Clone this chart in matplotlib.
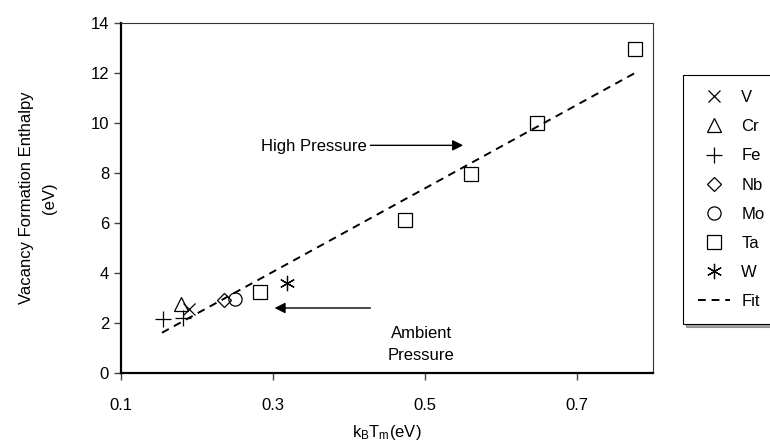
import matplotlib
matplotlib.use("Agg")
import matplotlib.pyplot as plt

plt.rcParams['font.family'] = ['Liberation Sans', 'DejaVu Sans']
plt.rcParams['mathtext.default'] = 'regular'

# values
v_x, v_y = [0.190], [2.55]
cr_x, cr_y = [0.179], [2.76]
fe_x, fe_y = [0.156, 0.182], [2.15, 2.19]
nb_x, nb_y = [0.236], [2.92]
mo_x, mo_y = [0.250], [2.95]
ta_x = [0.283, 0.474, 0.560, 0.647, 0.776]
ta_y = [3.23, 6.12, 7.95, 10.01, 12.95]
w_x, w_y = [0.318], [3.59]
fit_x, fit_y = [0.154, 0.777], [1.61, 12.01]

x_ticks = [0.1, 0.3, 0.5, 0.7]
y_ticks = [0, 2, 4, 6, 8, 10, 12, 14]

fig = plt.figure(figsize=(7.7, 4.42), dpi=100)
ax = fig.add_axes([0.157, 0.156, 0.6915, 0.7926])

mk = dict(linestyle='none', markerfacecolor='none', markeredgecolor='black',
          markeredgewidth=0.9)
ax.plot(v_x, v_y, marker='x', markersize=9, label='V', **mk)
ax.plot(cr_x, cr_y, marker='^', markersize=10, label='Cr', **mk)
ax.plot(fe_x, fe_y, marker='+', markersize=11, label='Fe', **mk)
ax.plot(nb_x, nb_y, marker='D', markersize=7, label='Nb', **mk)
ax.plot(mo_x, mo_y, marker='o', markersize=9.5, label='Mo', **mk)
ax.plot(ta_x, ta_y, marker='s', markersize=10.5, label='Ta', **mk)
ax.plot(w_x, w_y, marker=(6, 2, 0), markersize=11, label='W', **mk)
ax.plot(fit_x, fit_y, color='black', linestyle=(0, (4, 3)), linewidth=1.4,
        label='Fit')

ax.set_xlim(0.1, 0.8)
ax.set_ylim(0, 14)
ax.set_xticks(x_ticks)
ax.set_xticklabels(['0.1', '0.3', '0.5', '0.7'])
ax.set_yticks(y_ticks)
ax.tick_params(direction='out', length=5, width=1, labelsize=12, color='#444444')
ax.tick_params(axis='x', pad=13)
for s in ax.spines.values():
    s.set_linewidth(0.8)
    s.set_color('#333333')
ax.spines['left'].set_linewidth(1.6)
ax.spines['bottom'].set_linewidth(1.6)
ax.spines['left'].set_color('black')
ax.spines['bottom'].set_color('black')

ax.set_xlabel('k$_{B}$T$_{m}$(eV)', fontsize=12, labelpad=7)
ax.set_ylabel('Vacancy Formation Enthalpy\n(eV)', fontsize=12, labelpad=24,
              linespacing=1.65)

arrow = dict(arrowstyle='-|>', color='black', lw=1, mutation_scale=16,
             shrinkA=0, shrinkB=0)
ax.annotate('', xy=(0.550, 9.1), xytext=(0.428, 9.1), arrowprops=arrow)
ax.text(0.354, 9.05, 'High Pressure', fontsize=12, ha='center', va='center')
ax.annotate('', xy=(0.302, 2.6), xytext=(0.428, 2.6), arrowprops=arrow)
ax.text(0.495, 1.15, 'Ambient\nPressure', fontsize=12, ha='center', va='center',
        linespacing=1.6)

leg = ax.legend(loc='upper left', bbox_to_anchor=(0.887, 0.276, 0.15, 0.554),
                bbox_transform=fig.transFigure, mode='expand', borderaxespad=0,
                fontsize=12, frameon=True, fancybox=False, shadow=True,
                labelspacing=0.85, handlelength=1.9, handletextpad=0.7,
                borderpad=0.9)
leg.get_frame().set_edgecolor('black')
leg.get_frame().set_linewidth(0.8)

fig.savefig('out.png', dpi=100)
